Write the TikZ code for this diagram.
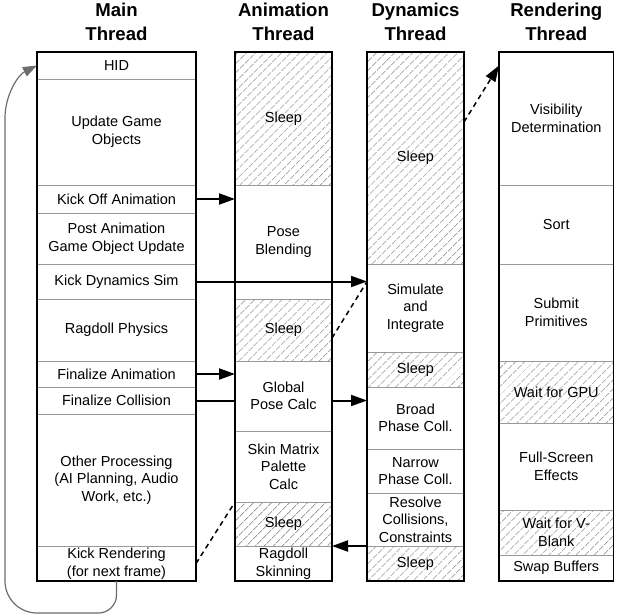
\documentclass[tikz,border=0pt]{standalone}
\usepackage{fontspec}
\setmainfont{Liberation Sans}
\usetikzlibrary{positioning,arrows.meta,patterns.meta,backgrounds}

\tikzstyle{cell} = [draw=gray!80, line width=0.8pt, rectangle, fill=white, inner sep=0pt, outer sep=0pt, align=center, font=\fontsize{14.5}{17.5}\selectfont]
\tikzstyle{mainc} = [cell, minimum width=159pt]
\tikzstyle{animc} = [cell, minimum width=97pt]
\tikzstyle{dync} = [cell, minimum width=97pt]
\tikzstyle{rendc} = [cell, minimum width=114.5pt]
\tikzstyle{sleep} = [pattern={Lines[angle=45,distance=6.5pt,line width=0.9pt]}, pattern color=gray!75]
\tikzstyle{frame} = [draw, line width=1.7pt]
\tikzstyle{header} = [align=center, font=\fontsize{18.6}{23.3}\selectfont\bfseries]
\tikzstyle{kick} = [->, line width=2pt]
\tikzstyle{wake} = [line width=1.5pt, dash pattern=on 5pt off 4pt]
\tikzstyle{loopback} = [-{Triangle[length=14pt,width=10pt]}, draw=gray!85!black, line width=1.2pt]

\begin{document}
\begin{tikzpicture}[x=1pt,y=-1pt,>={Triangle[length=16pt,width=11pt]}]
\useasboundingbox (0,0) rectangle (620,615);

\node[header] (mainh) at (116.5,22) {Main\\Thread};
\node[header] (animh) at (283.5,22) {Animation\\Thread};
\node[header] (dynh) at (415.5,22) {Dynamics\\Thread};
\node[header] (rendh) at (556.25,22) {Rendering\\Thread};

\node[mainc, minimum height=27pt, anchor=north] (hid) at (116.5,52) {HID};
\node[mainc, minimum height=106pt, below=0pt of hid] (ugo) {Update Game\\Objects};
\node[mainc, minimum height=28pt, below=0pt of ugo] (koa) {Kick Off Animation};
\node[mainc, minimum height=51pt, below=0pt of koa] (pago) {Post Animation\\Game Object Update};
\node[mainc, minimum height=35pt, below=0pt of pago] (kds) {Kick Dynamics Sim};
\node[mainc, minimum height=62pt, below=0pt of kds] (rp) {Ragdoll Physics};
\node[mainc, minimum height=26pt, below=0pt of rp] (fa) {Finalize Animation};
\node[mainc, minimum height=27pt, below=0pt of fa] (fc) {Finalize Collision};
\node[mainc, minimum height=132pt, below=0pt of fc] (op) {Other Processing\\(AI Planning, Audio\\Work, etc.)};
\node[mainc, minimum height=35pt, below=0pt of op] (kr) {Kick Rendering\\(for next frame)};
\draw[frame] (hid.north west) rectangle (kr.south east);

\node[animc, sleep, minimum height=133pt, anchor=north] (as1) at (283.5,52) {Sleep};
\node[animc, minimum height=114pt, below=0pt of as1] (pb) {Pose\\Blending};
\node[animc, sleep, minimum height=62pt, below=0pt of pb] (as2) {Sleep};
\node[animc, minimum height=70pt, below=0pt of as2] (gpc) {Global\\Pose Calc};
\node[animc, minimum height=71pt, below=0pt of gpc] (smp) {Skin Matrix\\Palette\\Calc};
\node[animc, sleep, minimum height=44pt, below=0pt of smp] (as3) {Sleep};
\node[animc, minimum height=35pt, below=0pt of as3] (rs) {Ragdoll\\Skinning};
\draw[frame] (as1.north west) rectangle (rs.south east);

\node[dync, sleep, minimum height=212pt, anchor=north] (ds1) at (415.5,52) {Sleep};
\node[dync, minimum height=88pt, below=0pt of ds1] (si) {Simulate\\and\\Integrate};
\node[dync, sleep, minimum height=35pt, below=0pt of si] (ds2) {Sleep};
\node[dync, minimum height=62pt, below=0pt of ds2] (bpc) {Broad\\Phase Coll.};
\node[dync, minimum height=44pt, below=0pt of bpc] (npc) {Narrow\\Phase Coll.};
\node[dync, minimum height=53pt, below=0pt of npc] (rcc) {Resolve\\Collisions,\\Constraints};
\node[dync, sleep, minimum height=35pt, below=0pt of rcc] (ds3) {Sleep};
\draw[frame] (ds1.north west) rectangle (ds3.south east);

\node[rendc, minimum height=133pt, anchor=north] (vd) at (556.25,52) {Visibility\\Determination};
\node[rendc, minimum height=79pt, below=0pt of vd] (sort) {Sort};
\node[rendc, minimum height=97pt, below=0pt of sort] (sp) {Submit\\Primitives};
\node[rendc, sleep, minimum height=62pt, below=0pt of sp] (wgpu) {Wait for GPU};
\node[rendc, minimum height=87pt, below=0pt of wgpu] (fse) {Full-Screen\\Effects};
\node[rendc, sleep, minimum height=45pt, below=0pt of fse] (wvb) {Wait for V-\\Blank};
\node[rendc, minimum height=26pt, below=0pt of wvb] (sb) {Swap Buffers};
\draw[frame] (vd.north west) rectangle (sb.south east);

\begin{scope}[on background layer]
\draw[kick] (fc.east) -- (fc.east -| bpc.west);
\end{scope}
\draw[kick] (koa.east) -- (koa.east -| pb.west);
\draw[kick] (kds.east) -- (kds.east -| si.west);
\draw[kick] (fa.east) -- (fa.east -| gpc.west);
\draw[kick] (rcc.south west) -- (rcc.south west -| rs.east);

\draw[wake] ([yshift=-8pt]as2.east) -- (kds.east -| si.west);
\draw[wake] (kr.east) -- (as3.north west);
\draw[wake,->] ([yshift=36pt]ds1.east) -- (hid.west -| vd.west);

\coordinate (lb) at (5,613);
\draw[loopback] (kr.south) [rounded corners=18pt] -- (kr.south |- lb) [rounded corners=32pt] -- (lb) -- (5,150) .. controls (5,95) and (18,75) .. (hid.west);

\end{tikzpicture}
\end{document}
